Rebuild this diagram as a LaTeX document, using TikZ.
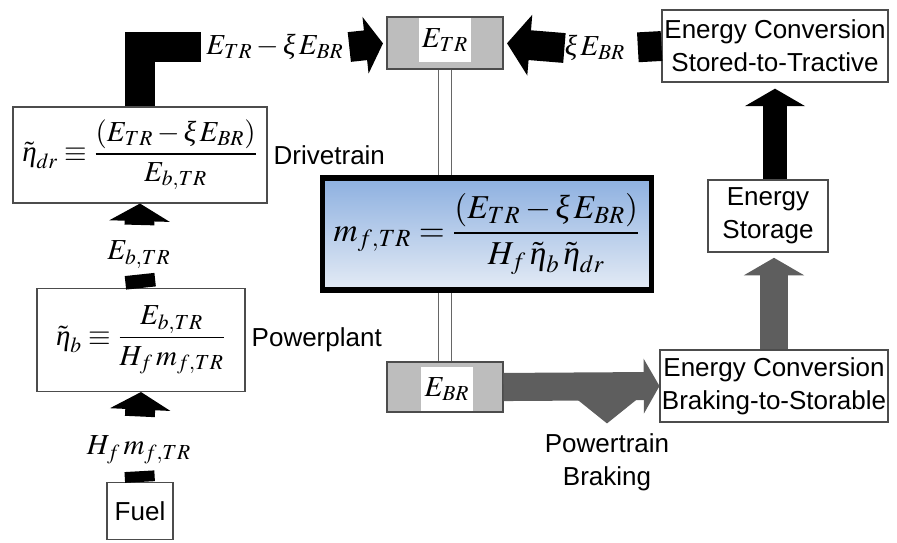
\documentclass[tikz,border=0pt]{standalone}
\usepackage{mathptmx}
\usepackage{fontspec}
\newfontfamily\arial{Liberation Sans}
\newfontfamily\libser{Liberation Serif}
\newcommand{\ixi}{\mbox{\libser\itshape ξ}}
\newcommand{\ieta}{\mbox{\libser\itshape η}}
\usepackage{tikz}
\usetikzlibrary{arrows.meta,positioning,calc}
\definecolor{MB}{HTML}{8DB0E0}
\definecolor{ML}{HTML}{E4EBF5}
\definecolor{GF}{HTML}{BDBDBD}
\definecolor{GA}{HTML}{5E5E5E}

\tikzset{
  box/.style={draw=black!70, line width=0.6pt, fill=white, inner sep=0pt,
              align=center, font=\arial\fontsize{14.8}{19}\selectfont},
  eqbox/.style={box, font=\fontsize{16.5}{19}\selectfont},
  graybox/.style={draw=black!70, line width=0.6pt, fill=GF,
                  minimum width=2.32cm},
  graytx/.style={fill=white, inner sep=0pt, minimum width=1.05cm,
                 minimum height=0.88cm, font=\fontsize{16.5}{18}\selectfont},
  mfbox/.style={draw=black, line width=3pt, top color=MB, bottom color=ML,
                inner sep=0pt, minimum width=6.58cm, minimum height=2.24cm,
                font=\fontsize{19}{21}\selectfont},
  mathlbl/.style={inner sep=0pt, font=\fontsize{16.5}{18}\selectfont},
  txtlbl/.style={font=\arial\fontsize{14.8}{19}\selectfont, align=center},
  fatblack/.style={line width=17pt, black},
  fatgray/.style={line width=16pt, GA},
  bigtip/.style={-{Triangle[width=34pt, length=10pt]}},
  wire/.style={draw=black!60, line width=0.6pt, double, double distance=7pt}
}

\begin{document}
\begin{tikzpicture}[x=0.02cm, y=-0.02cm]

    \useasboundingbox (0,0) rectangle (897,542);

    %% ── left column: fuel -> powerplant -> drivetrain ────
    \node[eqbox, minimum width=5.08cm, minimum height=1.92cm] (dr)
      at (140,155)
      {$\tilde{\ieta}_{dr}\equiv\displaystyle
        \frac{(E_{TR}-\ixi\,E_{BR})}{E_{b,TR}}$};
    \node[txtlbl, right=0pt of dr] (drlbl) {Drivetrain};

    \node[eqbox, minimum width=4.16cm, minimum height=2.06cm] (pp)
      at (141,340)
      {$\tilde{\ieta}_{b}\equiv\displaystyle
        \frac{E_{b,TR}}{H_f\,m_{f,TR}}$};
    \node[txtlbl, right=0pt of pp] (pplbl) {Powerplant};

    \node[box, minimum width=1.32cm, minimum height=1.14cm] (fuel)
      at (140,511) {Fuel};

    \node[mathlbl] (eb) at (139,255) {$E_{b,TR}$};
    \node[mathlbl] (hf) at (139,450) {$H_f\,m_{f,TR}$};

    %% ── centre: tractive / braking energy ────────────────
    \node[graybox, minimum height=1.04cm] (etr) at (445,43) {};
    \node[graytx] (etrtx) at (445,40) {$E_{TR}$};
    \node[graybox, minimum height=1.0cm] (ebr) at (445,387) {};
    \node[graytx] (ebrtx) at (447,389) {$E_{BR}$};

    \draw[wire] (etr.south) -- (ebr.north);

    \node[mfbox] (mf) at (487,234)
      {$m_{f,TR}=\displaystyle
        \frac{(E_{TR}-\ixi\,E_{BR})}{H_f\,\tilde{\ieta}_b\,\tilde{\ieta}_{dr}}$};

    \node[mathlbl] (etrlbl) at (275,47) {$E_{TR}-\ixi\,E_{BR}$};
    \node[mathlbl] (xilbl) at (595,48) {$\ixi\,E_{BR}$};

    %% ── right column: storage loop ───────────────────────
    \node[box, minimum width=4.52cm, minimum height=1.44cm] (st)
      at (775,46) {Energy Conversion\\Stored-to-Tractive};
    \node[box, minimum width=2.4cm, minimum height=1.44cm] (es)
      at (768,216) {Energy\\Storage};
    \node[box, minimum width=4.56cm, minimum height=1.44cm] (bs)
      at (774,386) {Energy Conversion\\Braking-to-Storable};
    \node[txtlbl] (pb) at (607,462) {Powertrain\\Braking};

    %% black flows
    \draw[fatblack, shorten >=3pt] (pp.north) -- (eb.south);
    \draw[fatblack, bigtip, shorten <=9pt] (eb.north) -- (dr.south);
    \draw[fatblack, shorten >=4pt] (fuel.north) -- (hf.south);
    \draw[fatblack, bigtip, shorten <=11pt] (hf.north) -- (pp.south);
    \draw[fatblack, line join=miter]
      (dr.north) |- ([xshift=-3pt]etrlbl.west);
    \draw[fatblack, -{Triangle[width=32pt, length=10pt]}, shorten >=2pt]
      ([xshift=3pt]etrlbl.east) -- (etr.west);
    \draw[fatblack, shorten >=7pt] (st.west) -- (xilbl.east);
    \draw[fatblack, -{Triangle[width=34pt, length=13pt]}, shorten >=2pt]
      (xilbl.west) -- (etr.east);
    \draw[fatblack, line width=14pt, bigtip, shorten >=3.5pt]
      (es.north -| st.south) -- (st.south);

    %% gray flows
    \draw[fatgray, bigtip, shorten >=3pt] (bs.north) -- (es.south -| bs.north);
    \draw[fatgray, -{Triangle[width=31pt, length=9pt]}] (ebr.east) -- (bs.west);
    \draw[fatgray, -{Triangle[width=34pt, length=14pt]}, shorten >=2pt]
      (ebr.east -| pb.north) -- (pb.north);

  \end{tikzpicture}
\end{document}
